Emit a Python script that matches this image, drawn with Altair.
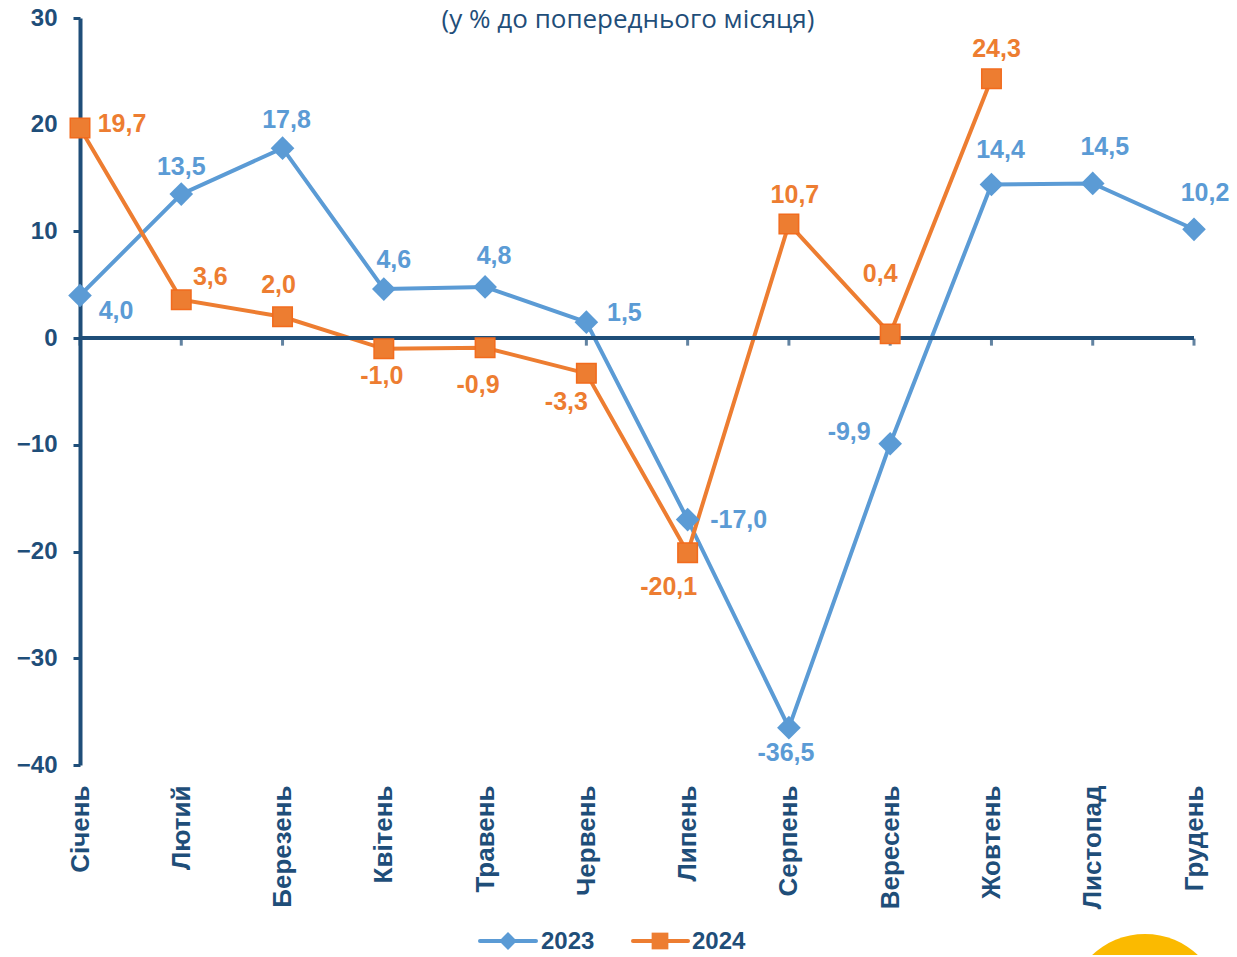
import altair as alt
import pandas as pd

MONTHS = ["Січень", "Лютий", "Березень", "Квітень", "Травень", "Червень",
          "Липень", "Серпень", "Вересень", "Жовтень", "Листопад", "Грудень"]
V2023 = [4.0, 13.5, 17.8, 4.6, 4.8, 1.5, -17.0, -36.5, -9.9, 14.4, 14.5, 10.2]
V2024 = [19.7, 3.6, 2.0, -1.0, -0.9, -3.3, -20.1, 10.7, 0.4, 24.3]
YEARS = ["2023", "2024"]
COLORS = ["#5B9BD5", "#ED7D31"]
NAVY = "#1F4E79"

# label placement offsets in pixels (style, not data)
DX23 = [36, 0, 4, 10, 9, 38, 51, -3, -41, 9, 12, 11]
DY23 = [16, -27, -28, -29, -31, -9, 0, 25, -12, -34, -36, -36]
DX24 = [42, 29, -4, -2, -7, -20, -19, 6, -10, 5]
DY24 = [-4, -23, -32, 27, 37, 29, 34, -29, -60, -30]


def fmt(v):
    return f"{v:.1f}".replace(".", ",")


rows = []
for m, v in zip(MONTHS, V2023):
    rows.append({"month": m, "value": v, "year": "2023", "label": fmt(v)})
for m, v in zip(MONTHS, V2024):
    rows.append({"month": m, "value": v, "year": "2024", "label": fmt(v)})
df = pd.DataFrame(rows)

FONT = "Liberation Sans"
YSCALE = alt.Scale(domain=[-40, 30], nice=False, zero=False)

x_enc = alt.X("month:N", sort=MONTHS, title=None,
              scale=alt.Scale(type="point", padding=0),
              axis=alt.Axis(labelAngle=-90, domain=False, ticks=False, labelPadding=20,
                            labelFontSize=26, labelFontWeight="bold", labelColor=NAVY,
                            labelFont=FONT, grid=False))
y_enc = alt.Y("value:Q", title=None, scale=YSCALE,
              axis=alt.Axis(values=list(range(-40, 31, 10)), domainColor=NAVY, domainWidth=4,
                            tickColor=NAVY, tickWidth=3, tickSize=7, labelPadding=16,
                            labelFontSize=24, labelFontWeight="bold", labelColor=NAVY,
                            labelFont=FONT, grid=False))
color_enc = alt.Color("year:N", scale=alt.Scale(domain=YEARS, range=COLORS), legend=None)

base = alt.Chart(df)

lines = base.mark_line(strokeWidth=4).encode(x=x_enc, y=y_enc, color=color_enc, detail="year:N")

zero_rule = base.mark_rule(color=NAVY, strokeWidth=3.5).encode(y=alt.datum(0))

xticks = alt.Chart(pd.DataFrame({"month": MONTHS})).mark_tick(
    color=NAVY, thickness=3, size=7, yOffset=4, orient="vertical").encode(
    x=alt.X("month:N", sort=MONTHS), y=alt.datum(0))

pts23 = base.transform_filter(alt.datum.year == "2023").mark_point(
    shape="diamond", filled=True, size=560, opacity=1, color=COLORS[0]).encode(
    x=alt.X("month:N", sort=MONTHS), y="value:Q")
pts24 = base.transform_filter(alt.datum.year == "2024").mark_point(
    shape="square", filled=True, size=380, opacity=1, color=COLORS[1],
    stroke="#F26B1D", strokeWidth=1.5).encode(
    x=alt.X("month:N", sort=MONTHS), y="value:Q")

label_layers = []
for yr, months, dxs, dys, col in [("2023", MONTHS, DX23, DY23, COLORS[0]),
                                  ("2024", MONTHS[:len(V2024)], DX24, DY24, COLORS[1])]:
    for m, dx, dy in zip(months, dxs, dys):
        label_layers.append(
            base.transform_filter((alt.datum.year == yr) & (alt.datum.month == m)).mark_text(
                fontSize=25, fontWeight="bold", font=FONT, baseline="middle",
                dx=dx, dy=dy, color=col).encode(
                x=alt.X("month:N", sort=MONTHS), y="value:Q", text="label:N"))

title = alt.Chart(pd.DataFrame({"t": ["(у % до попереднього місяця)"]})).mark_text(
    fontSize=26, font="Open Sans", color=NAVY, baseline="alphabetic", align="center").encode(
    x=alt.value(548), y=alt.value(10), text="t:N")

# manual legend
leg = pd.DataFrame({
    "year": YEARS,
    "x1": [400, 553], "x2": [456, 608], "xm": [428, 580], "xt": [461, 612],
})
LEG_Y = 923
leg_line = alt.Chart(leg).mark_rule(strokeWidth=4, strokeCap="round").encode(
    x=alt.X("x1:Q", scale=None), x2="x2:Q", y=alt.value(LEG_Y), color=color_enc)
leg_d = alt.Chart(leg).transform_filter(alt.datum.year == "2023").mark_point(
    shape="diamond", filled=True, size=320, opacity=1, color=COLORS[0]).encode(
    x=alt.X("xm:Q", scale=None), y=alt.value(LEG_Y))
leg_s = alt.Chart(leg).transform_filter(alt.datum.year == "2024").mark_point(
    shape="square", filled=True, size=280, opacity=1, color=COLORS[1]).encode(
    x=alt.X("xm:Q", scale=None), y=alt.value(LEG_Y))
leg_t = alt.Chart(leg).mark_text(fontSize=24, fontWeight="bold", font=FONT, color=NAVY,
                                 align="left", baseline="middle").encode(
    x=alt.X("xt:Q", scale=None), y=alt.value(LEG_Y + 1), text="year:N")

sun = alt.Chart(pd.DataFrame({"a": [1]})).mark_circle(color="#FBBA00", size=23716, opacity=1).encode(
    x=alt.value(1065), y=alt.value(993))

chart = alt.layer(
    lines, zero_rule, xticks, pts23, pts24, *label_layers, title,
    leg_line, leg_d, leg_s, leg_t, sun
).properties(
    width=1114, height=747,
    background="white",
    autosize=alt.AutoSizeParams(type="none"),
    padding={"left": 72, "top": 10, "right": 35, "bottom": 190},
).configure_view(strokeWidth=0)

chart.save("out.html", embed_options={"renderer": "svg", "actions": False})
